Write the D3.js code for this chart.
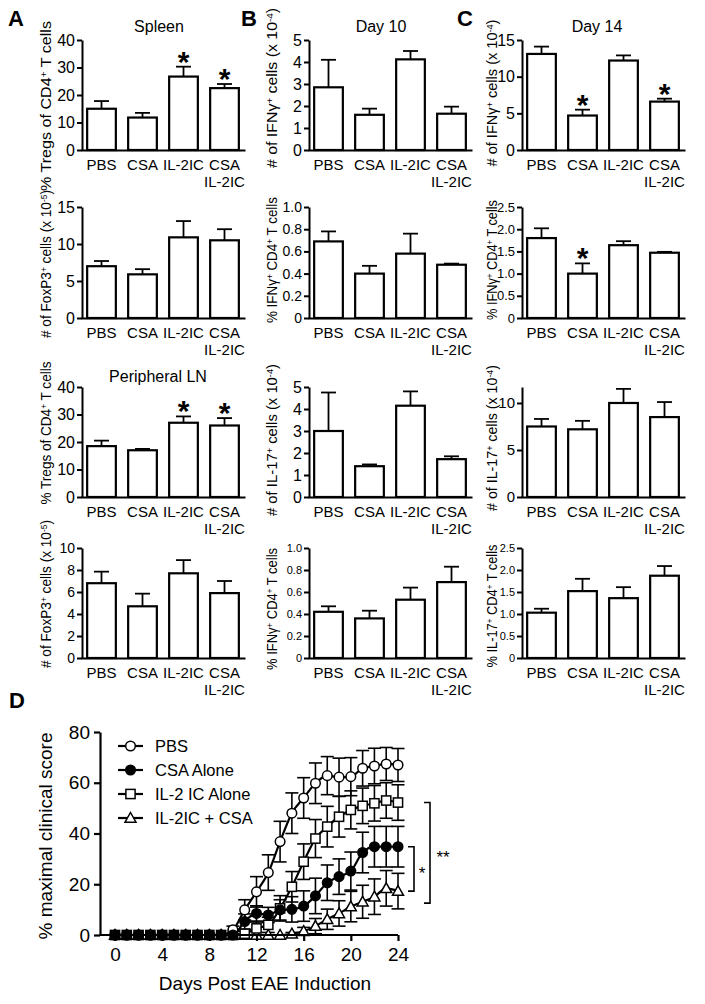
<html>
<head>
<title>Treg / EAE figure</title>
<style>
  body { margin: 0; background: #fff; }
  text { font-family: "Liberation Sans", Arial, sans-serif; }
</style>
</head>
<body>
<svg id="fig" width="705" height="1004"></svg>
<script src="https://d3js.org/d3.v7.min.js"></script>
<script>
// ---- data ----
const groups = ["PBS", "CSA", "IL-2IC", "CSA IL-2IC"];

// column A
const spleenTregs = [15.0, 11.8, 26.7, 22.5];
const spleenTregsErr = [2.8, 1.7, 3.6, 1.5];
const spleenFoxp3 = [7.0, 5.9, 10.9, 10.5];
const spleenFoxp3Err = [0.7, 0.7, 2.2, 1.5];
const lnTregs = [18.5, 17.0, 27.0, 26.0];
const lnTregsErr = [2.0, 0.5, 2.3, 2.7];
const lnFoxp3 = [6.8, 4.7, 7.7, 5.9];
const lnFoxp3Err = [1.05, 1.15, 1.2, 1.1];

// column B (day 10)
const d10Ifng = [2.85, 1.6, 4.12, 1.65];
const d10IfngErr = [1.25, 0.28, 0.38, 0.32];
const d10IfngPct = [0.69, 0.40, 0.58, 0.48];
const d10IfngPctErr = [0.09, 0.07, 0.18, 0.01];
const d10Il17 = [3.0, 1.4, 4.15, 1.72];
const d10Il17Err = [1.75, 0.08, 0.65, 0.13];
const d10IfngPct2 = [0.42, 0.36, 0.53, 0.69];
const d10IfngPct2Err = [0.05, 0.07, 0.11, 0.14];

// column C (day 14)
const d14Ifng = [13.1, 4.7, 12.2, 6.6];
const d14IfngErr = [1.0, 0.8, 0.7, 0.4];
const d14IfngPct = [1.80, 1.00, 1.64, 1.47];
const d14IfngPctErr = [0.22, 0.23, 0.09, 0.02];
const d14Il17 = [7.5, 7.2, 10.0, 8.5];
const d14Il17Err = [0.8, 0.9, 1.5, 1.6];
const d14Il17Pct = [1.03, 1.52, 1.36, 1.87];
const d14Il17PctErr = [0.09, 0.28, 0.25, 0.22];

// panel D
const days = [0, 1, 2, 3, 4, 5, 6, 7, 8, 9, 10, 11, 12, 13, 14, 15, 16, 17, 18, 19, 20, 21, 22, 23, 24];
const pbsScore   = [0, 0, 0, 0, 0, 0, 0, 0, 0, 0, 2, 9.9, 17, 24.6, 36.8, 48, 54, 59.8, 62.8, 62.2, 62.4, 65.7, 66.6, 67.4, 67];
const pbsErr     = [0, 0, 0, 0, 0, 0, 0, 0, 0, 0, 1.5, 4, 6, 7, 8, 8, 8, 8, 7.5, 7.5, 7.5, 7, 7, 6.5, 6.5];
const csaScore   = [0, 0, 0, 0, 0, 0, 0, 0, 0, 0, 0, 5.3, 8.5, 7.9, 9.9, 10.1, 11.4, 15.4, 20.6, 23, 25.2, 32.5, 34.8, 34.8, 34.8];
const csaErr     = [0, 0, 0, 0, 0, 0, 0, 0, 0, 0, 0, 3, 3, 3, 4, 5, 6, 7, 7, 7, 7.5, 8, 8, 8, 8];
const il2Score   = [0, 0, 0, 0, 0, 0, 0, 0, 0, 0, 0, 0.5, 2.6, 4, 10.5, 19, 28.9, 38, 42.7, 46.6, 49.3, 50.9, 51.9, 53, 52.2];
const il2Err     = [0, 0, 0, 0, 0, 0, 0, 0, 0, 0, 0, 1, 2.5, 3, 5, 6, 7, 7.5, 8, 8, 7.5, 7, 7, 7, 7];
const comboScore = [0, 0, 0, 0, 0, 0, 0, 0, 0, 0, 0, 0, 0, 0, 0, 0.5, 1.5, 3.5, 6.2, 8.5, 11.2, 13.1, 15.1, 18.4, 17.3];
const comboErr   = [0, 0, 0, 0, 0, 0, 0, 0, 0, 0, 0, 0, 0, 0, 0, 0.5, 1.5, 3, 4, 5, 6, 6.5, 7, 7, 7];
const seriesNames = ["PBS", "CSA Alone", "IL-2 IC Alone", "IL-2IC + CSA"];

// ---- layout ----
const svg = d3.select("#fig");
const cols = [{axisX: 82, labelX: 51}, {axisX: 309, labelX: 277}, {axisX: 522, labelX: 497}];
const rows = [{top: 40, bottom: 150}, {top: 207, bottom: 318}, {top: 387, bottom: 497}, {top: 548, bottom: 658}];

const dec1 = d => d === 0 ? "0" : d3.format(".1f")(d);
const intf = d => String(d);

// ll / lc: y-title length and centre
const panels = [
  {c: 0, r: 0, v: spleenTregs, e: spleenTregsErr, max: 40, ticks: [0, 10, 20, 30, 40], fmt: intf, fs: 16, label: "% Tregs of CD4^+^ T cells", ll: 170, lc: 106, stars: [2, 3]},
  {c: 1, r: 0, v: d10Ifng, e: d10IfngErr, max: 5, ticks: [0, 1, 2, 3, 4, 5], fmt: intf, fs: 16, label: "# of IFNγ^+^ cells (x 10^-4^)", ll: 160, lc: 88, stars: []},
  {c: 2, r: 0, v: d14Ifng, e: d14IfngErr, max: 15, ticks: [0, 5, 10, 15], fmt: intf, fs: 16, label: "# of IFNγ^+^ cells (x 10^-4^)", ll: 147, lc: 93, stars: [1, 3]},
  {c: 0, r: 1, v: spleenFoxp3, e: spleenFoxp3Err, max: 15, ticks: [0, 5, 10, 15], fmt: intf, fs: 16, label: "# of FoxP3^+^ cells (x 10^-5^)", ll: 148, lc: 264, stars: []},
  {c: 1, r: 1, v: d10IfngPct, e: d10IfngPctErr, max: 1, ticks: [0, 0.2, 0.4, 0.6, 0.8, 1.0], fmt: dec1, fs: 14, label: "% IFNγ^+^ CD4^+^ T cells", ll: 126, lc: 260, stars: []},
  {c: 2, r: 1, v: d14IfngPct, e: d14IfngPctErr, max: 2.5, ticks: [0, 0.5, 1, 1.5, 2, 2.5], fmt: dec1, fs: 13, label: "% IFNγ^+^ CD4^+^ T cells", ll: 120, lc: 260, stars: [1]},
  {c: 0, r: 2, v: lnTregs, e: lnTregsErr, max: 40, ticks: [0, 10, 20, 30, 40], fmt: intf, fs: 16, label: "% Tregs of CD4^+^ T cells", ll: 143, lc: 433, stars: [2, 3]},
  {c: 1, r: 2, v: d10Il17, e: d10Il17Err, max: 5, ticks: [0, 1, 2, 3, 4, 5], fmt: intf, fs: 16, label: "# of IL-17^+^ cells (x 10^-4^)", ll: 152, lc: 440, stars: []},
  {c: 2, r: 2, v: d14Il17, e: d14Il17Err, max: 11.7, ticks: [0, 5, 10], fmt: intf, fs: 15, label: "# of IL-17^+^ cells (x 10^-4^)", ll: 146, lc: 438, stars: []},
  {c: 0, r: 3, v: lnFoxp3, e: lnFoxp3Err, max: 10, ticks: [0, 2, 4, 6, 8, 10], fmt: intf, fs: 14, label: "# of FoxP3^+^ cells (x 10^-5^)", ll: 148, lc: 594, stars: []},
  {c: 1, r: 3, v: d10IfngPct2, e: d10IfngPct2Err, max: 1, ticks: [0, 0.2, 0.4, 0.6, 0.8, 1.0], fmt: dec1, fs: 11, label: "% IFNγ^+^ CD4^+^ T cells", ll: 122, lc: 609, stars: []},
  {c: 2, r: 3, v: d14Il17Pct, e: d14Il17PctErr, max: 2.5, ticks: [0, 0.5, 1, 1.5, 2, 2.5], fmt: dec1, fs: 11, label: "% IL-17^+^ CD4^+^ T cells", ll: 123, lc: 606, stars: []}
];

// text with ^superscript^ parts
function richText(sel, str) {
  const parts = str.split("^");
  parts.forEach((p, i) => {
    if (!p) return;
    const sup = i % 2 === 1;
    sel.append("tspan")
      .attr("font-size", sup ? "0.62em" : null)
      .attr("dy", sup ? "-0.45em" : (i > 1 ? "0.28em" : null))
      .text(p);
  });
}

panels.forEach(p => {
  const col = cols[p.c], row = rows[p.r];
  const g = svg.append("g");

  const x = d3.scaleBand().domain(groups)
    .range([col.axisX - 1, col.axisX + 163])
    .paddingInner(0.3).paddingOuter(0.15);
  const y = d3.scaleLinear().domain([0, p.max]).range([row.bottom, row.top]);

  const data = groups.map((k, i) => ({k: k, v: p.v[i], e: p.e[i], i: i}));

  // bars
  g.selectAll("rect.bar").data(data).join("rect")
    .attr("class", "bar")
    .attr("x", d => x(d.k))
    .attr("y", d => y(d.v))
    .attr("width", x.bandwidth())
    .attr("height", d => y(0) - y(d.v))
    .attr("fill", "#fff").attr("stroke", "#000").attr("stroke-width", 2.2);

  // error bars (upper only)
  const eb = g.selectAll("g.err").data(data).join("g").attr("class", "err")
    .attr("stroke", "#000").attr("stroke-width", 1.8);
  eb.append("line")
    .attr("x1", d => x(d.k) + x.bandwidth() / 2).attr("x2", d => x(d.k) + x.bandwidth() / 2)
    .attr("y1", d => y(d.v)).attr("y2", d => y(d.v + d.e));
  eb.append("line")
    .attr("x1", d => x(d.k) + x.bandwidth() / 2 - 7.5).attr("x2", d => x(d.k) + x.bandwidth() / 2 + 7.5)
    .attr("y1", d => y(d.v + d.e)).attr("y2", d => y(d.v + d.e));

  // significance stars
  g.selectAll("text.star").data(data.filter(d => p.stars.includes(d.i))).join("text")
    .attr("class", "star")
    .attr("x", d => x(d.k) + x.bandwidth() / 2)
    .attr("y", d => y(d.v + d.e) + 5)
    .attr("text-anchor", "middle")
    .attr("font-size", 30).attr("font-weight", "bold")
    .text("*");

  // y axis
  const ya = g.append("g")
    .attr("transform", "translate(" + col.axisX + ",0)")
    .call(d3.axisLeft(y).tickValues(p.ticks).tickFormat(p.fmt).tickSize(5).tickSizeOuter(0).tickPadding(2));
  ya.selectAll("path, line").attr("stroke-width", 2);
  ya.selectAll("text").attr("font-size", p.fs).attr("font-family", null);

  // x axis
  const xa = g.append("g")
    .attr("transform", "translate(0," + row.bottom + ")")
    .call(d3.axisBottom(x).tickSize(0).tickSizeOuter(0).tickPadding(9));
  xa.select("path").attr("stroke-width", 2.2);
  xa.selectAll("text").attr("font-size", 15).attr("font-family", null)
    .each(function(d) {
      const t = d3.select(this);
      const words = d === "CSA IL-2IC" ? ["CSA", "IL-2IC"] : [d];
      t.text(null);
      words.forEach((w, i) => t.append("tspan").attr("x", 0).attr("dy", i === 0 ? null : "1.15em").text(w));
    });

  // y label, stretched to the length seen in the figure
  const lab = g.append("text")
    .attr("transform", "translate(" + col.labelX + "," + p.lc + ") rotate(-90)")
    .attr("text-anchor", "middle")
    .attr("font-size", 14.5)
    .attr("textLength", p.ll)
    .attr("lengthAdjust", "spacingAndGlyphs");
  richText(lab, p.label);
});

// titles & panel letters
const titles = [
  {t: "Spleen", x: 159, y: 32}, {t: "Day 10", x: 381, y: 32}, {t: "Day 14", x: 597, y: 32},
  {t: "Peripheral LN", x: 158, y: 382}
];
svg.selectAll("text.title").data(titles).join("text").attr("class", "title")
  .attr("x", d => d.x).attr("y", d => d.y).attr("text-anchor", "middle")
  .attr("font-size", 16).text(d => d.t);

const letters = [{t: "A", x: 8, y: 26}, {t: "B", x: 241, y: 26}, {t: "C", x: 457, y: 26}, {t: "D", x: 9, y: 708}];
svg.selectAll("text.letter").data(letters).join("text").attr("class", "letter")
  .attr("x", d => d.x).attr("y", d => d.y)
  .attr("font-size", 22).attr("font-weight", "bold").text(d => d.t);

// ---- panel D ----
const dx = d3.scaleLinear().domain([0, 24]).range([115, 398]);
const dy = d3.scaleLinear().domain([0, 80]).range([935, 732]);
const gd = svg.append("g");

const series = [
  {name: seriesNames[0], v: pbsScore, e: pbsErr, shape: "circle", fill: "#fff"},
  {name: seriesNames[1], v: csaScore, e: csaErr, shape: "circle", fill: "#000"},
  {name: seriesNames[2], v: il2Score, e: il2Err, shape: "square", fill: "#fff"},
  {name: seriesNames[3], v: comboScore, e: comboErr, shape: "triangle", fill: "#fff"}
];

function marker(sel, shape, fill) {
  if (shape === "circle") {
    sel.append("circle").attr("r", 4.8).attr("fill", fill).attr("stroke", "#000").attr("stroke-width", 1.5);
  } else if (shape === "square") {
    sel.append("rect").attr("x", -4.6).attr("y", -4.6).attr("width", 9.2).attr("height", 9.2)
      .attr("fill", fill).attr("stroke", "#000").attr("stroke-width", 1.5);
  } else {
    sel.append("path").attr("d", "M0,-5.5L5.5,4.2L-5.5,4.2Z")
      .attr("fill", fill).attr("stroke", "#000").attr("stroke-width", 1.5);
  }
}

const line = d3.line().x((d, i) => dx(days[i])).y(d => dy(d)).curve(d3.curveMonotoneX);
series.forEach(s => {
  gd.append("path").attr("d", line(s.v)).attr("fill", "none").attr("stroke", "#000").attr("stroke-width", 2.2);
});
series.forEach(s => {
  const pts = s.v.map((v, i) => ({d: days[i], v: v, e: s.e[i]})).filter(p => p.e > 0);
  const eg = gd.append("g").attr("stroke", "#000").attr("stroke-width", 1.6);
  pts.forEach(p => {
    eg.append("line").attr("x1", dx(p.d)).attr("x2", dx(p.d)).attr("y1", dy(Math.max(0, p.v - p.e))).attr("y2", dy(p.v + p.e));
    eg.append("line").attr("x1", dx(p.d) - 6.5).attr("x2", dx(p.d) + 6.5).attr("y1", dy(p.v + p.e)).attr("y2", dy(p.v + p.e));
    if (p.v - p.e > 0)
      eg.append("line").attr("x1", dx(p.d) - 6.5).attr("x2", dx(p.d) + 6.5).attr("y1", dy(p.v - p.e)).attr("y2", dy(p.v - p.e));
  });
});
[3, 2, 0, 1].forEach(k => {
  const s = series[k];
  s.v.forEach((v, i) => {
    const m = gd.append("g").attr("transform", "translate(" + dx(days[i]) + "," + dy(v) + ")");
    marker(m, s.shape, s.fill);
  });
});

// axes D
const dya = gd.append("g").attr("transform", "translate(100,0)")
  .call(d3.axisLeft(dy).tickValues([0, 20, 40, 60, 80]).tickSize(6).tickSizeOuter(0).tickPadding(4));
dya.selectAll("path, line").attr("stroke-width", 2.2);
dya.selectAll("text").attr("font-size", 19).attr("font-family", null);

const dxa = gd.append("g").attr("transform", "translate(0,935)")
  .call(d3.axisBottom(dx).tickValues([0, 4, 8, 12, 16, 20, 24]).tickSize(6).tickSizeOuter(0).tickPadding(7));
dxa.select("path").attr("d", "M100,0H" + dx(24));
dxa.selectAll("path, line").attr("stroke-width", 2.2);
dxa.selectAll("text").attr("font-size", 19).attr("font-family", null);

gd.append("text").attr("x", 265).attr("y", 990).attr("text-anchor", "middle")
  .attr("font-size", 19).text("Days Post EAE Induction");
gd.append("text").attr("transform", "translate(52,836) rotate(-90)").attr("text-anchor", "middle")
  .attr("font-size", 19).text("% maximal clinical score");

// legend
series.forEach((s, i) => {
  const ly = 746 + i * 24;
  const lg = gd.append("g");
  lg.append("line").attr("x1", 118).attr("x2", 143).attr("y1", ly).attr("y2", ly)
    .attr("stroke", "#000").attr("stroke-width", 2.2);
  marker(lg.append("g").attr("transform", "translate(130.5," + ly + ")"), s.shape, s.fill);
  lg.append("text").attr("x", 155).attr("y", ly + 6).attr("font-size", 16.5).text(s.name);
});

// significance brackets
function bracket(x, y1, y2, label, lx) {
  const b = gd.append("g");
  b.append("path").attr("d", "M" + (x - 6) + "," + y1 + "H" + x + "V" + y2 + "H" + (x - 6))
    .attr("fill", "none").attr("stroke", "#000").attr("stroke-width", 1.6);
  b.append("text").attr("x", lx).attr("y", (y1 + y2) / 2 + 10).attr("text-anchor", "middle")
    .attr("font-size", 17).text(label);
}
bracket(414, dy(34.8), dy(17.3), "*", 422);
bracket(430, dy(52.2), dy(17.3) + 12, "**", 443);
</script>
</body>
</html>
